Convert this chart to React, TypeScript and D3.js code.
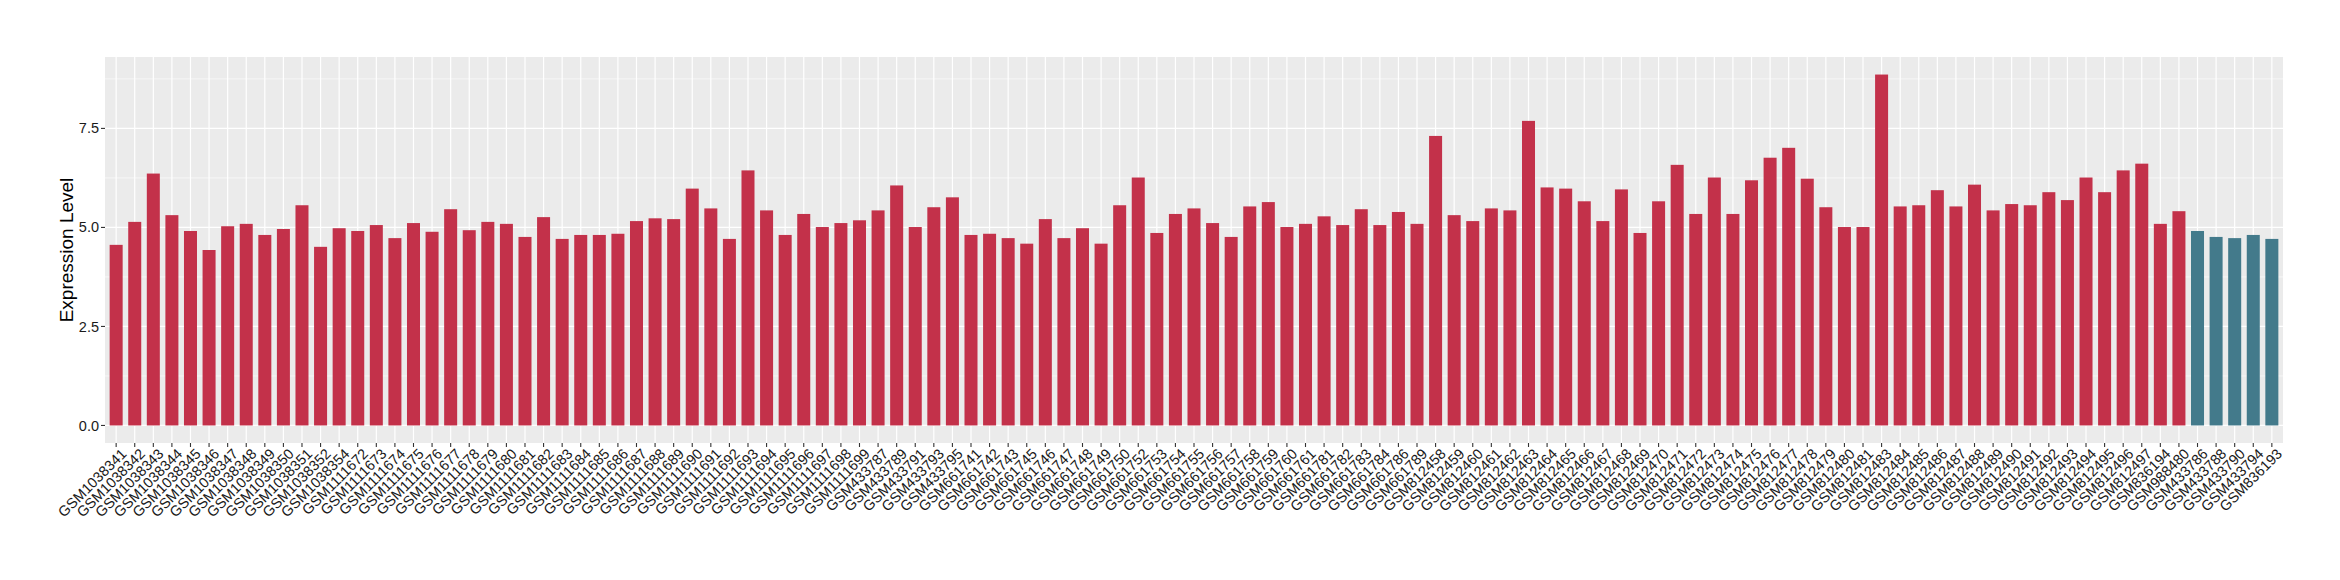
import React from "react";
import * as d3 from "d3";

const samples: string[] = [
  "GSM1038341","GSM1038342","GSM1038343","GSM1038344","GSM1038345","GSM1038346","GSM1038347","GSM1038348","GSM1038349","GSM1038350","GSM1038351","GSM1038352","GSM1038354",
  "GSM1111672","GSM1111673","GSM1111674","GSM1111675","GSM1111676","GSM1111677","GSM1111678","GSM1111679","GSM1111680","GSM1111681","GSM1111682","GSM1111683","GSM1111684","GSM1111685","GSM1111686","GSM1111687","GSM1111688","GSM1111689","GSM1111690","GSM1111691","GSM1111692","GSM1111693","GSM1111694","GSM1111695","GSM1111696","GSM1111697","GSM1111698","GSM1111699",
  "GSM433787","GSM433789","GSM433791","GSM433793","GSM433795",
  "GSM661741","GSM661742","GSM661743","GSM661745","GSM661746","GSM661747","GSM661748","GSM661749","GSM661750","GSM661752","GSM661753","GSM661754","GSM661755","GSM661756","GSM661757","GSM661758","GSM661759","GSM661760","GSM661761","GSM661781","GSM661782","GSM661783","GSM661784","GSM661786","GSM661789",
  "GSM812458","GSM812459","GSM812460","GSM812461","GSM812462","GSM812463","GSM812464","GSM812465","GSM812466","GSM812467","GSM812468","GSM812469","GSM812470","GSM812471","GSM812472","GSM812473","GSM812474","GSM812475","GSM812476","GSM812477","GSM812478","GSM812479","GSM812480","GSM812481",
  "GSM812483","GSM812484","GSM812485","GSM812486","GSM812487","GSM812488","GSM812489","GSM812490","GSM812491","GSM812492","GSM812493","GSM812494","GSM812495","GSM812496","GSM812497",
  "GSM836194","GSM988480",
  "GSM433786","GSM433788","GSM433790","GSM433794","GSM836193",
];

const expression: number[] = [
  4.56,5.14,6.36,5.31,4.91,4.43,5.03,5.09,4.81,4.96,5.56,4.51,4.98,
  4.91,5.06,4.73,5.11,4.89,5.46,4.93,5.14,5.09,4.76,5.26,4.71,4.81,4.81,4.84,5.16,5.23,5.21,5.98,5.48,4.71,6.44,5.43,4.81,5.34,5.01,5.11,5.18,
  5.43,6.06,5.01,5.51,5.76,
  4.81,4.84,4.73,4.59,5.21,4.73,4.98,4.59,5.56,6.26,4.86,5.34,5.48,5.11,4.76,5.53,5.64,5.01,5.09,5.28,5.06,5.46,5.06,5.39,5.09,
  7.31,5.31,5.16,5.48,5.43,7.69,6.01,5.98,5.66,5.16,5.96,4.86,5.66,6.58,5.34,6.26,5.34,6.19,6.76,7.01,6.23,5.51,5.01,5.01,
  8.86,5.53,5.56,5.94,5.53,6.08,5.43,5.59,5.56,5.89,5.69,6.26,5.89,6.44,6.61,
  5.09,5.41,
  4.91,4.76,4.73,4.81,4.71,
];

// group of each sample: "tumor" for the first 112, "normal" for the last 5
const groups: string[] = [
  ...Array(112).fill("tumor"),
  ...Array(5).fill("normal"),
];

const groupNames = ["tumor", "normal"];
const groupColors = ["#C3314A", "#437A8B"];

const yTicks = [0, 2.5, 5, 7.5];
const yTickLabels = ["0.0", "2.5", "5.0", "7.5"];
const yMinorTicks = [1.25, 3.75, 6.25, 8.75];
const yTitle = "Expression Level";

export default function App() {
  const W = 2340, H = 580;
  const left = 105, right = 2283, top = 57, bottom = 443;
  const font = "'Liberation Sans', Arial, Helvetica, sans-serif";

  const x = d3.scaleBand<string>().domain(samples).range([left, right]).paddingInner(0.3).paddingOuter(0.25);
  const yMax = d3.max(expression) as number;
  const pad = yMax * 0.05;
  const y = d3.scaleLinear().domain([-pad, yMax + pad]).range([bottom, top]);
  const color = d3.scaleOrdinal<string, string>().domain(groupNames).range(groupColors);
  const bw = x.bandwidth();

  return (
    <svg width={W} height={H} style={{ position: "absolute", left: 0, top: 0, background: "#fff" }}>
      <rect x={left} y={top} width={right - left} height={bottom - top} fill="#EBEBEB" />
      {yMinorTicks.map((t) => (
        <line key={"ym" + t} x1={left} x2={right} y1={y(t)} y2={y(t)} stroke="#fff" strokeWidth={0.6} />
      ))}
      {yTicks.map((t) => (
        <line key={"yM" + t} x1={left} x2={right} y1={y(t)} y2={y(t)} stroke="#fff" strokeWidth={1.2} />
      ))}
      {samples.map((s) => {
        const cx = (x(s) as number) + bw / 2;
        return <line key={"xg" + s} x1={cx} x2={cx} y1={top} y2={bottom} stroke="#fff" strokeWidth={1.2} />;
      })}
      {samples.map((s, i) => (
        <rect key={"b" + s} x={x(s) as number} width={bw} y={y(expression[i])} height={y(0) - y(expression[i])} fill={color(groups[i])} />
      ))}
      {yTicks.map((t, i) => (
        <g key={"yt" + t}>
          <line x1={left - 4} x2={left} y1={y(t)} y2={y(t)} stroke="#333" strokeWidth={1.1} />
          <text x={left - 6} y={y(t)} dy="0.35em" textAnchor="end" fontFamily={font} fontSize={14.5} fill="#1a1a1a">
            {yTickLabels[i]}
          </text>
        </g>
      ))}
      {samples.map((s) => {
        const cx = (x(s) as number) + bw / 2;
        return (
          <g key={"xt" + s}>
            <line x1={cx} x2={cx} y1={bottom} y2={bottom + 4} stroke="#333" strokeWidth={1.1} />
            <text transform={`translate(${cx + 3.5},${bottom + 4})rotate(-45)`} dy="0.75em" textAnchor="end" fontFamily={font} fontSize={14.5} fill="#1a1a1a">
              {s}
            </text>
          </g>
        );
      })}
      <text transform={`translate(${66},${(top + bottom) / 2})rotate(-90)`} dy="0.35em" textAnchor="middle" fontFamily={font} fontSize={19} fill="#000">
        {yTitle}
      </text>
    </svg>
  );
}
